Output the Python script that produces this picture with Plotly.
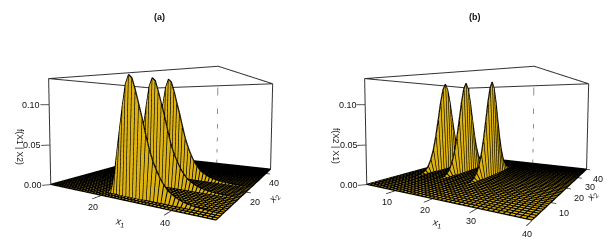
import numpy as np
import plotly.graph_objects as go

# ---------- values ----------
x1_a = list(range(1, 51))
x2_a = list(range(2, 47))
ridge_x2_a = [5, 15, 24]
ridge_a1 = [0,0,0,0,0,0,0,0,0,0,0,0,0,0,0,0,0,0,0,0.002,0.012,0.042,0.07,0.098,0.122,0.132,0.128,0.115,0.100,0.085,0.068,0.053,0.041,0.032,0.024,0.018,0.013,0.010,0.0075,0.0055,0.004,0.003,0.0022,0.0016,0.0012,0.0009,0.0006,0.0004,0.0003,0.0002]
ridge_a2 = [0,0,0,0,0,0,0,0,0,0,0,0,0,0,0,0,0,0,0.002,0.012,0.042,0.071,0.099,0.123,0.133,0.129,0.116,0.101,0.086,0.069,0.053,0.041,0.032,0.024,0.018,0.013,0.010,0.0075,0.0055,0.004,0.003,0.0022,0.0016,0.0012,0.0009,0.0006,0.0004,0.0003,0.0002,0.0001]
ridge_a3 = [0,0,0,0,0,0,0,0,0,0,0,0,0,0,0,0,0,0.002,0.012,0.042,0.072,0.100,0.124,0.135,0.131,0.118,0.102,0.087,0.070,0.054,0.042,0.032,0.024,0.018,0.013,0.010,0.0075,0.0055,0.004,0.003,0.0022,0.0016,0.0012,0.0009,0.0006,0.0004,0.0003,0.0002,0.0001,0.0001]
ridges_a = [ridge_a1, ridge_a2, ridge_a3]

x1_b = list(range(1, 41))
x2_b = list(range(1, 41))
ridge_x1_b = [5, 12, 20]
ridge_b = [0,0,0,0,0,0,0,0,0,0,0,0.0002,0.0005,0.0012,0.004,0.009,0.018,0.032,0.052,0.077,0.103,0.123,0.132,0.123,0.103,0.077,0.052,0.032,0.018,0.009,0.004,0.0012,0.0005,0.0002,0,0,0,0,0,0]
ridges_b = [ridge_b, ridge_b, ridge_b]

z_range = [0, 0.132]
z_ticks = [0.00, 0.05, 0.10]
x1_ticks_a = [20, 40]
x2_ticks_a = [20, 40]
x1_ticks_b = [10, 20, 30, 40]
x2_ticks_b = [10, 20, 30, 40]

GOLD = "#DDB312"
INK = "#111111"
FONT = "Liberation Sans"

EYE = (1.803, -3.390, 0.312)
CENTER = (-0.528, 0.249, 0.052)
AX, AY, AZ = 2.0, 2.258, 1.229
PAD = 0.3  # axis ranges are widened by this share on each side, so ticks stay inside
LIFT = 0.0004  # keeps the mesh just above the facets


def floor_surface(x1, x2, ridges, fixed, along_x1):
    z = np.zeros((len(x2), len(x1)))
    for pos, prof in zip(fixed, ridges):
        if along_x1:
            z[x2.index(pos), :] = prof
        else:
            z[:, x1.index(pos)] = prof
    return z


def add_panel(fig, x1, x2, z, scene, x1_ticks, x2_ticks, x2_shift):
    fig.add_trace(go.Surface(
        x=x1, y=x2, z=z, scene=scene, showscale=False, hoverinfo="skip",
        colorscale=[[0, GOLD], [1, GOLD]], cmin=0, cmax=1, surfacecolor=np.zeros_like(z),
        lighting=dict(ambient=1, diffuse=0, specular=0, roughness=1, fresnel=0),
        contours=dict(x=dict(show=False, highlight=False), y=dict(show=False, highlight=False),
                      z=dict(show=False, highlight=False))))
    # mesh lines of the same surface
    mx, my, mz = [], [], []
    for j, yv in enumerate(x2):
        mx += list(x1) + [None]
        my += [yv] * len(x1) + [None]
        mz += list(z[j, :] + LIFT) + [None]
    for i, xv in enumerate(x1):
        mx += [xv] * len(x2) + [None]
        my += list(x2) + [None]
        mz += list(z[:, i] + LIFT) + [None]
    fig.add_trace(go.Scatter3d(x=mx, y=my, z=mz, mode="lines", scene=scene, hoverinfo="skip",
                               showlegend=False, connectgaps=False, line=dict(color="black", width=2.5)))
    xl, xh, yl, yh, zl, zh = x1[0], x1[-1], x2[0], x2[-1], z_range[0], z_range[1]
    solid = [[(xl, yl, zl), (xl, yl, zh), (xh, yl, zh), (xh, yh, zh), (xl, yh, zh), (xl, yl, zh)],
             [(xh, yh, zl), (xh, yh, zh)],
             [(xl, yh, zl), (xl, yh, zh)]]
    for seg in solid:
        a = np.array(seg)
        fig.add_trace(go.Scatter3d(x=a[:, 0], y=a[:, 1], z=a[:, 2], mode="lines", scene=scene,
                                   hoverinfo="skip", showlegend=False, line=dict(color="#333333", width=2)))
    fig.add_trace(go.Scatter3d(x=[xh, xh], y=[yl, yl], z=[0.05, zh], mode="lines", scene=scene,
                               hoverinfo="skip", showlegend=False, line=dict(color="#222222", width=1, dash="dot")))
    dx = (xh - xl) * 0.035
    dy = (yh - yl) * 0.035
    ann = []

    def tick(p, v, txt, tx, ty, **kw):
        a = np.array([p, v])
        fig.add_trace(go.Scatter3d(x=a[:, 0], y=a[:, 1], z=a[:, 2], mode="lines", scene=scene,
                                   hoverinfo="skip", showlegend=False, line=dict(color="#222222", width=1.5)))
        ann.append(dict(x=v[0], y=v[1], z=v[2], text=txt, showarrow=False, xshift=tx, yshift=ty,
                        font=dict(family=FONT, size=9, color=INK), **kw))

    for t in z_ticks:
        tick((xl, yl, t), (xl - dx * 0.9, yl - dy * 0.9, t), f"{t:.2f}", 2, 0, xanchor="right", yanchor="middle")
    for t in x1_ticks:
        tick((t, yl, 0), (t, yl - dy * 1.6, 0), f"{t}", 1, -8, xanchor="center", yanchor="middle")
    for t in x2_ticks:
        tick((xh, t, 0), (xh + dx * 0.7, t, 0), f"{t}", x2_shift, -9, xanchor="center", yanchor="middle")
    return ann


def scene_layout(x1, x2, dom, ann):
    def rng(a):
        s = a[-1] - a[0]
        return [a[0] - PAD * s, a[-1] + PAD * s]
    f = 1 + 2 * PAD
    hide = dict(visible=False, showgrid=False, zeroline=False, showspikes=False, showticklabels=False, title="")
    return dict(domain=dict(x=dom, y=[0, 1]), aspectmode="manual",
                aspectratio=dict(x=AX * f, y=AY * f, z=AZ * f),
                xaxis=dict(range=rng(x1), **hide), yaxis=dict(range=rng(x2), **hide),
                zaxis=dict(range=rng(z_range), **hide),
                camera=dict(eye=dict(x=EYE[0], y=EYE[1], z=EYE[2]),
                            center=dict(x=CENTER[0], y=CENTER[1], z=CENTER[2]),
                            up=dict(x=0, y=0, z=1), projection=dict(type="perspective")),
                bgcolor="rgba(0,0,0,0)", annotations=ann, dragmode=False)


fig = go.Figure()
za = floor_surface(x1_a, x2_a, ridges_a, ridge_x2_a, True)
zb = floor_surface(x1_b, x2_b, ridges_b, ridge_x1_b, False)
ann_a = add_panel(fig, x1_a, x2_a, za, "scene", x1_ticks_a, x2_ticks_a, 4)
ann_b = add_panel(fig, x1_b, x2_b, zb, "scene2", x1_ticks_b, x2_ticks_b, 8)


def label(px, py, text, angle=0, bold=False, size=9):
    t = f"<b>{text}</b>" if bold else text
    return dict(x=px / 613, y=1 - py / 246, xref="paper", yref="paper", text=t, showarrow=False, textangle=angle,
                xanchor="center", yanchor="middle", font=dict(family=FONT, size=size, color=INK))


fig.update_layout(
    width=613, height=246, margin=dict(l=0, r=0, t=0, b=0), paper_bgcolor="white", showlegend=False,
    scene=scene_layout(x1_a, x2_a, [0, 0.485], ann_a),
    scene2=scene_layout(x1_b, x2_b, [0.516, 1.0], ann_b),
    annotations=[
        label(159, 17, "(a)", bold=True), label(475, 17, "(b)", bold=True),
        label(20, 147, "f(X1 | X2)", angle=90, size=8.5),
        label(336, 146, "f(X2 | X1)", angle=90, size=8.5),
        label(120, 222, "<i>x</i><sub>1</sub>", angle=10, size=10),
        label(437, 223, "<i>x</i><sub>1</sub>", angle=10, size=10),
        label(274, 198, "<i>x</i><sub>2</sub>", angle=-50, size=10),
        label(592, 196, "<i>x</i><sub>2</sub>", angle=-50, size=10),
    ])
fig.write_html("out.html", config={"displayModeBar": False},
               post_script="document.body.style.margin='0';document.body.style.overflow='hidden';")
